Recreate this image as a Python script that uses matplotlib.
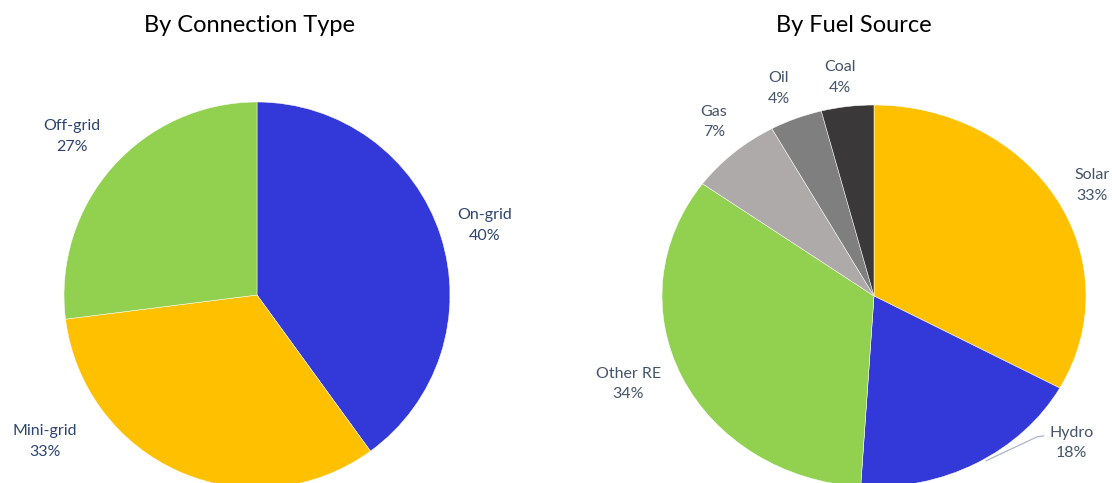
import matplotlib.pyplot as plt

plt.rcParams['font.family'] = ['Lato', 'DejaVu Sans']

# connection type shares, clockwise from 12 o'clock
conn_names = ['On-grid', 'Mini-grid', 'Off-grid']
conn_values = [40, 33, 27]
conn_colors = ['#3339D9', '#FFC000', '#92D050']
conn_label_xy = [(1.18, 0.36), (-1.10, -0.76), (-0.96, 0.82)]

# fuel source shares, clockwise from 12 o'clock
fuel_names = ['Solar', 'Hydro', 'Other RE', 'Gas', 'Oil', 'Coal']
fuel_values = [33, 18, 34, 7, 4, 4]
fuel_colors = ['#FFC000', '#3339D9', '#92D050', '#AEAAAA', '#7F7F7F', '#3A3838']
fuel_label_xy = [(1.03, 0.58), (0.93, -0.77), (-1.16, -0.46),
                 (-0.755, 0.91), (-0.45, 1.085), (-0.16, 1.145)]

W, H = 1112, 483
fig = plt.figure(figsize=(W / 100, H / 100), dpi=100)


def pie_axes(cx, cy, rx, ry):
    # pixel centre / radii -> figure-fraction axes
    ax = fig.add_axes([(cx - rx) / W, (H - cy - ry) / H, 2 * rx / W, 2 * ry / H])
    return ax


def draw_pie(ax, values, colors, names, label_xy, label_color):
    ax.pie(values, colors=colors, startangle=90, counterclock=False,
           radius=1.0, wedgeprops=dict(edgecolor='white', linewidth=0.35))
    ax.set_aspect('auto')
    ax.set_xlim(-1, 1)
    ax.set_ylim(-1, 1)
    ax.axis('off')
    for name, val, (x, y) in zip(names, values, label_xy):
        ax.text(x, y, '%s\n%d%%' % (name, val), ha='center', va='center',
                multialignment='center', fontsize=11.5, linespacing=1.6,
                color=label_color, clip_on=False)


ax1 = pie_axes(257, 295, 193, 193)
draw_pie(ax1, conn_values, conn_colors, conn_names, conn_label_xy, '#2B4470')

ax2 = pie_axes(874, 296, 212, 191)
draw_pie(ax2, fuel_values, fuel_colors, fuel_names, fuel_label_xy, '#44546A')
# leader line for the Hydro label
ax2.plot([0.80, 0.77, 0.53], [-0.733, -0.737, -0.862], color='#A9B6C9',
         lw=0.9, clip_on=False)

fig.text(249 / W, 1 - 25 / H, 'By Connection Type', ha='center', va='center',
         fontsize=17, color='black')
fig.text(854 / W, 1 - 25 / H, 'By Fuel Source', ha='center', va='center',
         fontsize=17, color='black')

fig.savefig('out.png', dpi=100)
